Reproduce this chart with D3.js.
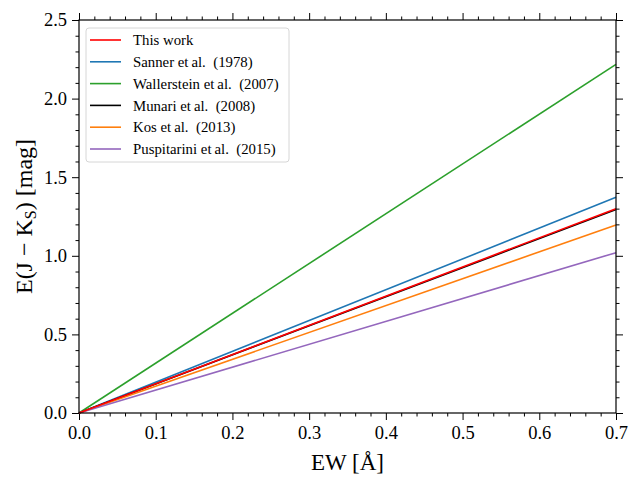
<!DOCTYPE html>
<html>
<head>
<meta charset="utf-8">
<script src="https://cdn.jsdelivr.net/npm/d3@7"></script>
<style>
  body { margin: 0; background: #fff; }
  svg text { font-family: "Liberation Serif", "DejaVu Serif", serif; fill: #000; white-space: pre; }
</style>
</head>
<body>
<svg width="630" height="477"></svg>
<script>
// series labels, colors and the E(J-Ks) value each relation gives at EW = 0.7 A
var seriesNames = ['This work', 'Sanner et\u2009al.  (1978)', 'Wallerstein et\u2009al.  (2007)',
  'Munari et\u2009al.  (2008)', 'Kos et\u2009al.  (2013)', 'Puspitarini et\u2009al.  (2015)'];
var seriesColors = ['#ff0000', '#1f77b4', '#2ca02c', '#000000', '#ff7f0e', '#9467bd'];
var endValues = [1.300, 1.372, 2.218, 1.294, 1.196, 1.020];
var ewPoints = [0, 0.7];

var xTicks = [0, 0.1, 0.2, 0.3, 0.4, 0.5, 0.6, 0.7];
var yTicks = [0, 0.5, 1.0, 1.5, 2.0, 2.5];

var svg = d3.select('svg');
var pLeft = 79, pRight = 616, pTop = 20, pBottom = 413;

var x = d3.scaleLinear().domain([0, 0.7]).range([pLeft, pRight]);
var y = d3.scaleLinear().domain([0, 2.5]).range([pBottom, pTop]);

var xMinor = d3.range(0, 0.7001, 0.02).filter(function (v) { return Math.abs(v * 10 - Math.round(v * 10)) > 1e-6; });
var yMinor = d3.range(0, 2.5001, 0.1).filter(function (v) { return Math.abs(v * 2 - Math.round(v * 2)) > 1e-6; });

var fmt = d3.format('.1f');

// axes on all four sides, ticks pointing out
function addAxis(axis, tx, ty, labels) {
  var g = svg.append('g').attr('transform', 'translate(' + tx + ',' + ty + ')').call(axis);
  g.select('.domain').remove();
  g.selectAll('line').attr('stroke', '#000').attr('stroke-width', 1);
  g.selectAll('text').style('font-size', '18.5px');
  if (!labels) g.selectAll('text').remove();
  return g;
}

addAxis(d3.axisBottom(x).tickValues(xTicks).tickFormat(fmt).tickSize(7).tickPadding(6), 0, pBottom, true);
addAxis(d3.axisBottom(x).tickValues(xMinor).tickSize(3.5), 0, pBottom, false);
addAxis(d3.axisTop(x).tickValues(xTicks).tickSize(7), 0, pTop, false);
addAxis(d3.axisTop(x).tickValues(xMinor).tickSize(3.5), 0, pTop, false);
addAxis(d3.axisLeft(y).tickValues(yTicks).tickFormat(fmt).tickSize(7).tickPadding(5), pLeft, 0, true);
addAxis(d3.axisLeft(y).tickValues(yMinor).tickSize(3.5), pLeft, 0, false);
addAxis(d3.axisRight(y).tickValues(yTicks).tickSize(7), pRight, 0, false);
addAxis(d3.axisRight(y).tickValues(yMinor).tickSize(3.5), pRight, 0, false);

// the lines, "This work" drawn last so it sits on top
var line = d3.line().x(function (d) { return x(d.ew); }).y(function (d) { return y(d.v); });
var order = [1, 2, 3, 4, 5, 0];
svg.append('g').selectAll('path')
  .data(order)
  .enter().append('path')
  .attr('d', function (i) {
    return line(ewPoints.map(function (e) { return { ew: e, v: endValues[i] * e / 0.7 }; }));
  })
  .attr('fill', 'none')
  .attr('stroke', function (i) { return seriesColors[i]; })
  .attr('stroke-width', 1.6);

// frame
svg.append('rect')
  .attr('x', pLeft).attr('y', pTop)
  .attr('width', pRight - pLeft).attr('height', pBottom - pTop)
  .attr('fill', 'none').attr('stroke', '#000').attr('stroke-width', 1.2);

// legend
svg.append('rect')
  .attr('x', 86).attr('y', 28).attr('width', 203).attr('height', 134)
  .attr('rx', 3).attr('fill', '#fff').attr('fill-opacity', 0.8)
  .attr('stroke', '#d6d6d6').attr('stroke-width', 1);

var legend = svg.selectAll('.legend')
  .data(seriesNames)
  .enter().append('g')
  .attr('class', 'legend')
  .attr('transform', function (d, i) { return 'translate(0,' + (40 + i * 21.8) + ')'; });

legend.append('line')
  .attr('x1', 90).attr('x2', 121)
  .attr('stroke', function (d, i) { return seriesColors[i]; })
  .attr('stroke-width', 1.6);

legend.append('text')
  .attr('x', 133).attr('dy', '0.35em')
  .style('font-size', '14.8px')
  .text(function (d) { return d; });

// axis titles
svg.append('text')
  .attr('x', (pLeft + pRight) / 2).attr('y', 470)
  .attr('text-anchor', 'middle').style('font-size', '23px')
  .text('EW [\u00c5]');

var yl = svg.append('text')
  .attr('transform', 'translate(32,' + ((pTop + pBottom) / 2) + ') rotate(-90)')
  .attr('text-anchor', 'middle').style('font-size', '24px');
yl.append('tspan').text('E(J \u2212 K');
yl.append('tspan').attr('dy', 4).style('font-size', '16px').text('S');
yl.append('tspan').attr('dy', -4).text(') [mag]');
</script>
</body>
</html>
